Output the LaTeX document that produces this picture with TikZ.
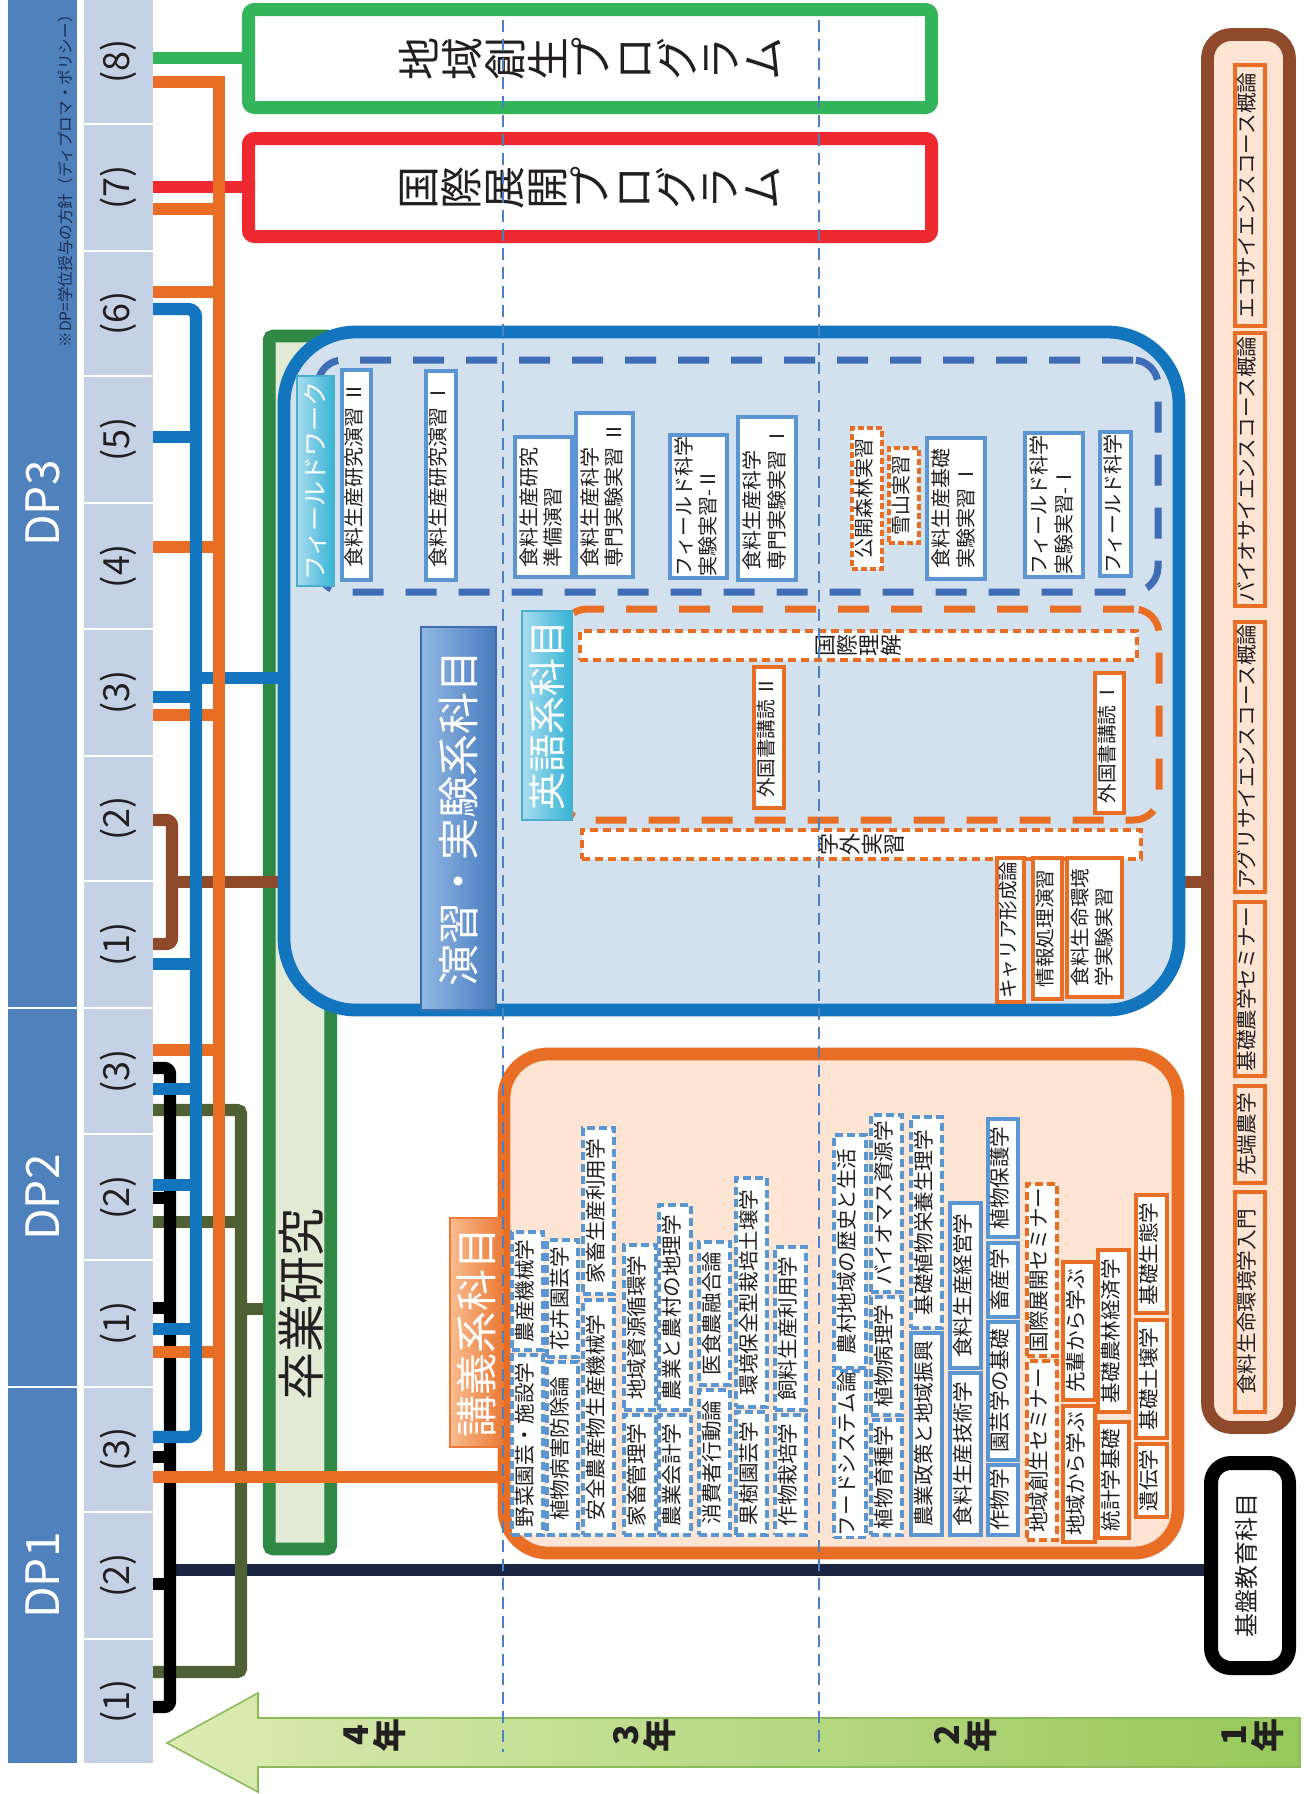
\documentclass[tikz,border=0pt]{standalone}
\usepackage{graphicx}
\usepackage{fontspec}
\setmainfont{Noto Sans CJK JP}
\pgfdeclarelayer{back}
\pgfdeclarelayer{lines}
\pgfdeclarelayer{top}
\pgfsetlayers{back,lines,main,top}
\definecolor{dpblue}{HTML}{4F81BD}
\definecolor{dpcell}{HTML}{C5D2E5}
\definecolor{txt}{HTML}{231F20}
\definecolor{cblue}{HTML}{1275BD}
\definecolor{corange}{HTML}{E86E26}
\definecolor{cgreen}{HTML}{34B55C}
\definecolor{cred}{HTML}{EC2A30}
\definecolor{cbrown}{HTML}{8E4A2B}
\definecolor{colive}{HTML}{4F6134}
\definecolor{cnavy}{HTML}{1B2542}
\definecolor{sgreen}{HTML}{2F8945}
\definecolor{sfill}{HTML}{E2EAD6}
\definecolor{efill}{HTML}{D3E1EF}
\definecolor{kfill}{HTML}{FDE4D3}
\definecolor{ylin}{HTML}{4A80C4}
\definecolor{fwb}{HTML}{5A97D2}
\definecolor{fwd}{HTML}{3E6CB5}
\definecolor{notec}{HTML}{1C2B4C}
\definecolor{tcL}{HTML}{A8DDEF}
\definecolor{tcR}{HTML}{36B3D5}
\definecolor{tcD}{HTML}{4AAFCF}
\definecolor{tbL}{HTML}{92B8E3}
\definecolor{tbR}{HTML}{477BBF}
\definecolor{tbD}{HTML}{3D6DAF}
\definecolor{toL}{HTML}{F9BC8E}
\definecolor{toR}{HTML}{EB7A36}
\definecolor{arL}{HTML}{DCEBB3}
\definecolor{arR}{HTML}{97C85A}
\definecolor{arD}{HTML}{8CBB5B}
\newcommand\rtxt[1]{\rotatebox{90}{\begin{tabular}{@{}l@{}}#1\end{tabular}}}
\makeatletter
\newcommand\tate[1]{\rotatebox{90}{\vbox{\lineskiplimit=-\maxdimen\@tfor\tch:=#1\do{\hbox to 1em{\hss\tch\hss}}}}}
\makeatother
\newcommand\mkbox[7]{\node[#1, minimum width={(#4-#3)*0.5pt}, minimum height={(#6-#5)*0.5pt}] (#2) at ({(#3+#4)/2},{(#5+#6)/2}) {#7};}
\begin{document}
\begin{tikzpicture}[x=0.5pt,y=-0.5pt,
 every node/.style={inner sep=0.5pt, text=txt},
 dpst/.style={fill=dpblue, text=white, font=\fontsize{23}{25}\selectfont, outer sep=0pt},
 cellst/.style={fill=dpcell, font=\fontsize{18}{20}\selectfont, outer sep=0pt},
 bus/.style={line width=6.2pt},
 prog/.style={draw=#1, line width=6.5pt, fill=white, rounded corners=3pt, outer sep=3.2pt, font=\fontsize{21.5}{21.5}\selectfont},
 bigbox/.style={draw=#1, line width=6.4pt, outer sep=3.2pt},
 grpdash/.style={draw=#1, line width=3.5pt, dash pattern=on 15.5pt off 11pt},
 tab/.style={draw=#1, line width=0.8pt, text=white},
 fwbox/.style={draw=fwb, line width=2pt, fill=white, font=\fontsize{10}{12.4}\selectfont},
 fwor/.style={draw=corange, line width=2pt, dash pattern=on 3pt off 1.5pt, fill=white, font=\fontsize{10}{12.4}\selectfont},
 orsolid/.style={draw=corange, line width=2pt, fill=white, font=\fontsize{9.8}{12.4}\selectfont},
 lodthin/.style={draw=corange, line width=2pt, dash pattern=on 4pt off 2.5pt, fill=white, font=\fontsize{11}{11}\selectfont},
 lbd/.style={draw=fwb, line width=1.6pt, dash pattern=on 4pt off 2pt, fill=white, font=\fontsize{10.3}{12.4}\selectfont},
 lbs/.style={draw=fwb, line width=2pt, fill=white, font=\fontsize{10.3}{12.4}\selectfont},
 lod/.style={draw=corange, line width=2pt, dash pattern=on 4pt off 2pt, fill=white, font=\fontsize{10.3}{12.4}\selectfont},
 los/.style={draw=corange, line width=2pt, fill=white, font=\fontsize{10.3}{12.4}\selectfont},
 losb/.style={draw=corange, line width=2pt, fill=kfill, font=\fontsize{10.3}{12.4}\selectfont},
 yline/.style={draw=ylin, line width=1.3pt, dash pattern=on 6pt off 3.5pt}]
\begin{pgfonlayer}{back}
\fill[white] (0,0) rectangle (1303,1794);
\mkbox{bigbox=sgreen, fill=sfill, rounded corners=2pt}{sotsu}{269.25}{330.75}{336}{1549}{}
\end{pgfonlayer}
\useasboundingbox (0,0) rectangle (1303,1794);
% DP column
\mkbox{dpst}{dp3}{8}{77}{0}{1007}{\rotatebox{90}{DP3}}
\mkbox{dpst}{dp2}{8}{77}{1009}{1386}{\rotatebox{90}{DP2}}
\mkbox{dpst}{dp1}{8}{77}{1388}{1763}{\rotatebox{90}{DP1}}
\node[rotate=90, anchor=east, font=\fontsize{7.8}{8}\selectfont, text=notec] (note) at (66,6) {※DP=学位授与の方針（ディプロマ・ポリシー）};
\mkbox{cellst}{d3c8}{84}{153}{0}{123}{\rotatebox{90}{(8)}}
\mkbox{cellst}{d3c7}{84}{153}{125}{250}{\rotatebox{90}{(7)}}
\mkbox{cellst}{d3c6}{84}{153}{252}{375}{\rotatebox{90}{(6)}}
\mkbox{cellst}{d3c5}{84}{153}{377}{502}{\rotatebox{90}{(5)}}
\mkbox{cellst}{d3c4}{84}{153}{504}{628}{\rotatebox{90}{(4)}}
\mkbox{cellst}{d3c3}{84}{153}{630}{755}{\rotatebox{90}{(3)}}
\mkbox{cellst}{d3c2}{84}{153}{757}{880}{\rotatebox{90}{(2)}}
\mkbox{cellst}{d3c1}{84}{153}{882}{1007}{\rotatebox{90}{(1)}}
\mkbox{cellst}{d2c3}{84}{153}{1009}{1133}{\rotatebox{90}{(3)}}
\mkbox{cellst}{d2c2}{84}{153}{1135}{1259}{\rotatebox{90}{(2)}}
\mkbox{cellst}{d2c1}{84}{153}{1261}{1386}{\rotatebox{90}{(1)}}
\mkbox{cellst}{d1c3}{84}{153}{1388}{1511}{\rotatebox{90}{(3)}}
\mkbox{cellst}{d1c2}{84}{153}{1513}{1638}{\rotatebox{90}{(2)}}
\mkbox{cellst}{d1c1}{84}{153}{1640}{1763}{\rotatebox{90}{(1)}}
% programmes
\mkbox{prog=cgreen}{progA}{248.5}{931.5}{9.5}{107.5}{\tate{地域創生プログラム}}
\mkbox{prog=cred}{progB}{248.5}{931.5}{138.5}{236.5}{\tate{国際展開プログラム}}
% right boxes
\mkbox{bigbox=cbrown, fill=kfill, rounded corners=12pt}{brownbox}{1207.5}{1289.5}{34.5}{1427.5}{}
\mkbox{losb}{b1}{1235}{1265}{65}{326}{\rtxt{エコサイエンスコース概論}}
\mkbox{losb}{b2}{1235}{1265}{333}{606}{\rtxt{バイオサイエンスコース概論}}
\mkbox{losb}{b3}{1235}{1265}{622}{892}{\rtxt{アグリサイエンスコース概論}}
\mkbox{losb}{b4}{1235}{1265}{902}{1076}{\rtxt{基礎農学セミナー}}
\mkbox{losb}{b5}{1235}{1265}{1086}{1183}{\rtxt{先端農学}}
\mkbox{losb}{b6}{1235}{1265}{1192}{1412}{\rtxt{食料生命環境学入門}}
\mkbox{bigbox=black, fill=white, rounded corners=10pt, line width=7pt, outer sep=3.5pt, font=\fontsize{12}{14}\selectfont}{kiban}{1211}{1289}{1463}{1668}{\rtxt{基盤教育科目}}
% graduation research label
\node[font=\fontsize{24}{26}\selectfont] (sotsut) at (301,1304) {\rotatebox{90}{卒業研究}};
% exercise / experiment box
\mkbox{bigbox=cblue, fill=efill, rounded corners=36pt}{enshu}{284}{1179}{332}{1010}{}
\mkbox{grpdash=fwd, rounded corners=12.5pt}{fwgrp}{318}{1158}{360}{592}{}
\mkbox{grpdash=corange, rounded corners=12.5pt}{engrp}{562}{1159}{609}{820}{}
\mkbox{tab=tcD, left color=tcL, right color=tcR, font=\fontsize{12.5}{14}\selectfont}{fwtab}{297}{334}{376}{586}{\rotatebox{90}{フィールドワーク}}
\mkbox{tab=tcD, left color=tcL, right color=tcR, font=\fontsize{19}{21}\selectfont}{entab}{522}{572}{611}{820}{\rotatebox{90}{英語系科目}}
\mkbox{tab=tbD, left color=tbL, right color=tbR, font=\fontsize{21}{23}\selectfont}{enshutab}{421}{496}{627}{1010}{\rotatebox{90}{演習・実験系科目}}
\mkbox{fwbox}{fwA}{342}{371}{370}{580}{\rtxt{食料生産研究演習 Ⅱ}}
\mkbox{fwbox}{fwB}{426}{456}{371}{580}{\rtxt{食料生産研究演習 Ⅰ}}
\mkbox{fwbox}{fwC}{515}{572}{437}{577}{\rtxt{食料生産研究\\準備演習}}
\mkbox{fwbox}{fwD}{576}{633}{413}{577}{\rtxt{食料生産科学\\専門実験実習 Ⅱ}}
\mkbox{fwbox}{fwE}{670}{727}{435}{578}{\rtxt{フィールド科学\\実験実習-Ⅱ}}
\mkbox{fwbox}{fwF}{738}{796}{417}{580}{\rtxt{食料生産科学\\専門実験実習 Ⅰ}}
\mkbox{fwor}{fwG}{852}{882}{428}{569}{\rtxt{公開森林実習}}
\mkbox{fwor}{fwH}{889}{919}{448}{543}{\rtxt{雪山実習}}
\mkbox{fwbox}{fwI}{927}{985}{438}{579}{\rtxt{食料生産基礎\\実験実習 Ⅰ}}
\mkbox{fwbox}{fwJ}{1025}{1083}{433}{577}{\rtxt{フィールド科学\\実験実習-Ⅰ}}
\mkbox{fwbox}{fwK}{1100}{1131}{432}{576}{\rtxt{フィールド科学}}
\mkbox{lodthin}{rikai}{580}{1137}{631}{660}{\tate{国際理解}}
\mkbox{lodthin}{gakugai}{582}{1141}{830}{859}{\tate{学外実習}}
\mkbox{orsolid}{gai2}{754}{784}{667}{808}{\rtxt{外国書講読\,Ⅱ}}
\mkbox{orsolid}{gai1}{1095}{1124}{673}{813}{\rtxt{外国書講読\,Ⅰ}}
\mkbox{orsolid}{career}{997}{1024}{858}{1002}{\rtxt{キャリア形成論}}
\mkbox{orsolid}{joho}{1033}{1062}{858}{999}{\rtxt{情報処理演習}}
\mkbox{orsolid}{jikken}{1067}{1122}{858}{997}{\rtxt{食料生命環境\\学実験実習}}
% lecture box
\mkbox{bigbox=corange, fill=kfill, rounded corners=22pt}{kogi}{504}{1178}{1054}{1553}{}
\mkbox{tab=toR, left color=toL, right color=toR, font=\fontsize{21}{23}\selectfont}{kogitab}{450}{503}{1218}{1447}{\rotatebox{90}{講義系科目}}
\mkbox{lbd}{k1a}{512}{543}{1355}{1535}{\rtxt{野菜園芸・施設学}}
\mkbox{lbd}{k1b}{512}{543}{1232}{1350}{\rtxt{農産機械学}}
\mkbox{lbd}{k2a}{547}{578}{1362}{1535}{\rtxt{植物病害防除論}}
\mkbox{lbd}{k2b}{547}{578}{1240}{1357}{\rtxt{花卉園芸学}}
\mkbox{lbd}{k3a}{583}{614}{1300}{1535}{\rtxt{安全農産物生産機械学}}
\mkbox{lbd}{k3b}{583}{614}{1128}{1294}{\rtxt{家畜生産利用学}}
\mkbox{lbd}{k4a}{624}{656}{1415}{1535}{\rtxt{家畜管理学}}
\mkbox{lbd}{k4b}{624}{656}{1245}{1410}{\rtxt{地域資源循環学}}
\mkbox{lbd}{k5a}{659}{691}{1415}{1535}{\rtxt{農業会計学}}
\mkbox{lbd}{k5b}{659}{691}{1205}{1410}{\rtxt{農業と農村の地理学}}
\mkbox{lbd}{k6a}{699}{730}{1390}{1535}{\rtxt{消費者行動論}}
\mkbox{lbd}{k6b}{699}{730}{1242}{1385}{\rtxt{医食農融合論}}
\mkbox{lbd}{k7a}{736}{767}{1412}{1535}{\rtxt{果樹園芸学}}
\mkbox{lbd}{k7b}{736}{767}{1178}{1407}{\rtxt{環境保全型栽培土壌学}}
\mkbox{lbd}{k8a}{775}{806}{1415}{1535}{\rtxt{作物栽培学}}
\mkbox{lbd}{k8b}{775}{806}{1247}{1410}{\rtxt{飼料生産利用学}}
\mkbox{lbd}{k9a}{834}{866}{1373}{1535}{\rtxt{フードシステム論}}
\mkbox{lbd}{k9b}{834}{866}{1135}{1368}{\rtxt{農村地域の歴史と生活}}
\mkbox{lbd}{k10a}{871}{902}{1420}{1535}{\rtxt{植物育種学}}
\mkbox{lbd}{k10b}{871}{902}{1297}{1415}{\rtxt{植物病理学}}
\mkbox{lbd}{k10c}{871}{902}{1115}{1292}{\rtxt{バイオマス資源学}}
\mkbox{lbs}{k11a}{911}{942}{1333}{1535}{\rtxt{農業政策と地域振興}}
\mkbox{lbd}{k11b}{911}{942}{1117}{1328}{\rtxt{基礎植物栄養生理学}}
\mkbox{lbs}{k12a}{950}{981}{1373}{1535}{\rtxt{食料生産技術学}}
\mkbox{lbs}{k12b}{950}{981}{1203}{1368}{\rtxt{食料生産経営学}}
\mkbox{lbs}{k13a}{988}{1018}{1465}{1535}{\rtxt{作物学}}
\mkbox{lbs}{k13b}{988}{1018}{1322}{1460}{\rtxt{園芸学の基礎}}
\mkbox{lbs}{k13c}{988}{1018}{1243}{1317}{\rtxt{畜産学}}
\mkbox{lbs}{k13d}{988}{1018}{1119}{1237}{\rtxt{植物保護学}}
\mkbox{lod}{k14a}{1027}{1057}{1361}{1540}{\rtxt{地域創生セミナー}}
\mkbox{lod}{k14b}{1027}{1057}{1184}{1356}{\rtxt{国際展開セミナー}}
\mkbox{los}{k15a}{1063}{1095}{1406}{1542}{\rtxt{地域から学ぶ}}
\mkbox{los}{k15b}{1063}{1095}{1262}{1400}{\rtxt{先輩から学ぶ}}
\mkbox{los}{k16a}{1098}{1129}{1422}{1538}{\rtxt{統計学基礎}}
\mkbox{los}{k16b}{1098}{1129}{1250}{1412}{\rtxt{基礎農林経済学}}
\mkbox{los}{k17a}{1136}{1167}{1444}{1517}{\rtxt{遺伝学}}
\mkbox{los}{k17b}{1136}{1167}{1320}{1438}{\rtxt{基礎土壌学}}
\mkbox{los}{k17c}{1136}{1167}{1195}{1313}{\rtxt{基礎生態学}}
% year arrow
\shade[left color=arL, right color=arR, draw=arD, line width=0.8pt] (167,1743) -- (258,1693) -- (258,1718) -- (1300,1718) -- (1300,1767) -- (258,1767) -- (258,1792) -- cycle;
\node[font=\bfseries\fontsize{17}{17}\selectfont] (y4) at (375,1735) {\tate{4年}};
\node[font=\bfseries\fontsize{17}{17}\selectfont] (y3) at (645,1735) {\tate{3年}};
\node[font=\bfseries\fontsize{17}{17}\selectfont] (y2) at (966,1735) {\tate{2年}};
\node[font=\bfseries\fontsize{17}{17}\selectfont] (y1) at (1253,1735) {\tate{1年}};
% bus coordinates
\coordinate (bO) at (219,82);
\coordinate (bB) at (196,309);
\coordinate (bK) at (170,1068);
\coordinate (bV) at (241,1110);
\coordinate (bR) at (172,820);
\begin{pgfonlayer}{lines}
\draw[bus, cnavy, line width=6.4pt] (bK |- 0,1570) -- (kiban.west |- 0,1570);
\draw[bus, colive, rounded corners=2pt] (d2c3.east |- 0,1110) -- (bV) -- (bV |- 0,1672) -- (d1c1.east |- 0,1672);
\draw[bus, colive] (d2c2.east |- 0,1222) -- (bV |- 0,1222);
\draw[bus, colive] (bV |- 0,1309) -- (sotsu.west |- 0,1309);
\draw[bus, black, rounded corners=3pt] (d2c3.east |- 0,1068) -- (bK) -- (bK |- 0,1707) -- (d1c1.east |- 0,1707);
\foreach \c/\yy in {d2c2/1198, d2c1/1308, d1c3/1457, d1c2/1584}
  \draw[bus, black] (\c.east |- 0,\yy) -- (bK |- 0,\yy);
\draw[bus, cbrown, rounded corners=3pt] (d3c2.east |- 0,820) -- (bR) -- (bR |- 0,944) -- (d3c1.east |- 0,944);
\draw[bus, cbrown] (bR |- 0,882) -- (enshu.west |- 0,882);
\draw[bus, cbrown] (enshu.east |- 0,882) -- (brownbox.west |- 0,882);
\foreach \c/\yy in {d3c7/209, d3c6/292, d3c4/547, d3c3/715, d2c3/1050, d2c1/1352}
  \draw[bus, corange] (\c.east |- 0,\yy) -- (bO |- 0,\yy);
\draw[bus, cred] (d3c7.east |- 0,187) -- (progB.west |- 0,187);
\draw[bus, cgreen] (d3c8.east |- 0,58) -- (progA.west |- 0,58);
\draw[bus, cblue, rounded corners=4pt] (d3c6.east |- 0,309) -- (bB) -- (bB |- 0,1437) -- (d1c3.east |- 0,1437);
\foreach \c/\yy in {d3c5/437, d3c3/697, d3c1/964, d2c3/1089, d2c2/1185, d2c1/1329}
  \draw[bus, cblue] (\c.east |- 0,\yy) -- (bB |- 0,\yy);
\draw[bus, cblue] (bB |- 0,678) -- (enshu.west |- 0,678);
\draw[bus, corange, line join=miter] (d3c8.east |- 0,82) -- (bO) -- (bO |- 0,1477);
\draw[bus, corange] (d1c3.east |- 0,1477) -- (kogi.west |- 0,1477);
\end{pgfonlayer}
% year dividers
\coordinate (ya1) at (503,20);
\coordinate (ya2) at (503,1752);
\coordinate (yb1) at (819,20);
\coordinate (yb2) at (819,1752);
\begin{pgfonlayer}{top}
\draw[yline] (ya1) -- (ya2);
\draw[yline] (yb1) -- (yb2);
\end{pgfonlayer}
\end{tikzpicture}
\end{document}
